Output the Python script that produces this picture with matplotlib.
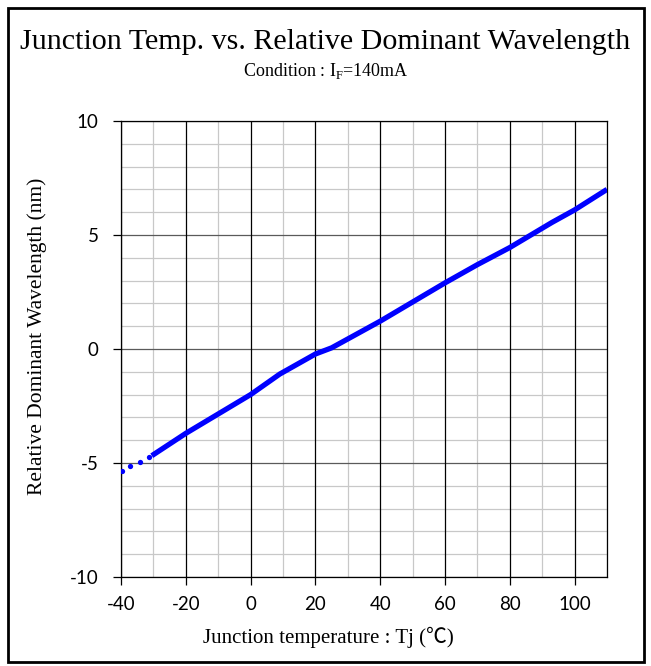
import matplotlib
matplotlib.use("Agg")
import matplotlib.pyplot as plt
from matplotlib.patches import Rectangle

plt.rcParams["axes.unicode_minus"] = False

# sparse points at the cold end (drawn as dots)
tj_dots = [-39.8, -37.1, -34.2, -31.4]
wl_dots = [-5.35, -5.15, -4.95, -4.75]

# main curve
tj_line = [-30.5, -20, -10, 0, 9, 20, 25, 40, 60, 70, 80, 93, 100, 110]
wl_line = [-4.68, -3.7, -2.85, -2.0, -1.1, -0.22, 0.05, 1.22, 2.9, 3.7, 4.45, 5.55, 6.1, 7.0]

x_ticks = [-40, -20, 0, 20, 40, 60, 80, 100]
y_ticks = [-10, -5, 0, 5, 10]

serif = "Liberation Serif"
sans = "Lato"

fig = plt.figure(figsize=(6.51, 6.66), dpi=100)
ax = fig.add_axes([121/651, 1 - 577/666, 486/651, 456/666])

# grid
for v in range(-10, 11):
    if v % 5 == 0:
        ax.axhline(v, color="#5a5a5a", lw=0.9, zorder=1)
    else:
        ax.axhline(v, color="#c8c8c8", lw=0.9, zorder=0)
for v in range(-40, 111, 10):
    if v % 20 == 0:
        ax.axvline(v, color="#000000", lw=0.9, zorder=1)
    else:
        ax.axvline(v, color="#c8c8c8", lw=0.9, zorder=0)

ax.plot(tj_line, wl_line, color="#0000ff", lw=3.8, solid_capstyle="butt", zorder=3)
ax.plot(tj_dots, wl_dots, "o", color="#0000ff", ms=3.8, mec="none", zorder=3)

ax.set_xlim(-40, 110)
ax.set_ylim(-10, 10)
ax.set_xticks(x_ticks)
ax.set_yticks(y_ticks)
ax.tick_params(direction="out", length=6, width=0.9, color="black", labelsize=13.5)
ax.tick_params(axis="y", pad=10)
ax.tick_params(axis="x", pad=8)
for lab in ax.get_xticklabels() + ax.get_yticklabels():
    lab.set_fontfamily(sans)
for s in ax.spines.values():
    s.set_linewidth(0.9)

ax.set_xlabel("Junction temperature : Tj (\u2103)", fontsize=15, family=[serif, "Noto Sans CJK JP"],
              va="center")
ax.xaxis.set_label_coords((328 - 121) / 486, (577 - 637) / 456)
ax.set_ylabel("Relative Dominant Wavelength (nm)", fontsize=15.5, family=serif, va="center")
ax.yaxis.set_label_coords((37 - 121) / 486, (577 - 336) / 456)

fig.text(0.5, 1 - 42/666, "Junction Temp. vs. Relative Dominant Wavelength",
         ha="center", va="center", fontsize=21.6, family=serif)
fig.text(0.5, 1 - 71/666, r"Condition : I$_\mathregular{F}$=140mA",
         ha="center", va="center", fontsize=13, family=serif)

# outer frame
fig.patches.append(Rectangle((8/651, 1 - 662/666), 636/651, 654/666, transform=fig.transFigure,
                             fill=False, edgecolor="black", lw=2))

fig.savefig("out.png", dpi=100)
